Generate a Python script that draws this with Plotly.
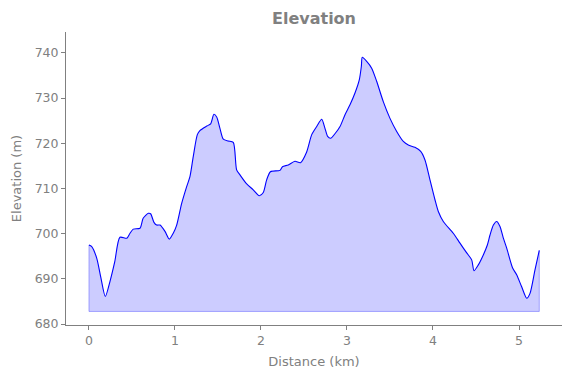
import plotly.graph_objects as go

distance_km = [0.0, 0.03, 0.09, 0.136, 0.19, 0.244, 0.30, 0.36, 0.44, 0.477, 0.515, 0.593,
               0.63, 0.69, 0.717, 0.756, 0.787, 0.826, 0.884, 0.934, 0.98, 1.02, 1.078,
               1.136, 1.174, 1.213, 1.26, 1.29, 1.37, 1.415, 1.453, 1.485, 1.523, 1.562,
               1.62, 1.678, 1.717, 1.756, 1.834, 1.91, 1.98, 2.027, 2.066, 2.11, 2.22,
               2.25, 2.317, 2.395, 2.46, 2.53, 2.59, 2.648, 2.706, 2.744, 2.775, 2.81,
               2.86, 2.919, 2.977, 3.035, 3.093, 3.143, 3.167, 3.178, 3.229, 3.287,
               3.345, 3.422, 3.5, 3.578, 3.655, 3.713, 3.79, 3.857, 3.907, 3.965, 4.023,
               4.062, 4.12, 4.236, 4.314, 4.39, 4.45, 4.477, 4.527, 4.585, 4.632, 4.663,
               4.702, 4.74, 4.779, 4.818, 4.857, 4.926, 4.973, 5.03, 5.09, 5.128, 5.186,
               5.236]
elevation_m = [697.5, 697.2, 694.6, 690.5, 686.1, 689.4, 693.8, 699.2, 699.0, 700.1, 701.0,
               701.2, 703.4, 704.5, 704.4, 702.5, 701.9, 701.9, 700.5, 698.8, 700.1, 701.9,
               706.7, 710.4, 712.6, 717.1, 721.9, 722.8, 723.8, 724.3, 726.4, 725.8, 723.3,
               720.9, 720.5, 720.2, 714.1, 713.0, 711.0, 709.7, 708.4, 709.1, 711.9, 713.7,
               714.0, 714.8, 715.2, 716.0, 715.7, 718.0, 721.9, 723.7, 725.3, 723.3, 721.5,
               721.1, 722.1, 723.7, 726.3, 728.5, 731.1, 734.0, 737.0, 739.0, 738.1, 736.6,
               733.7, 729.2, 725.5, 722.6, 720.4, 719.6, 719.1, 718.2, 716.3, 711.9, 707.5,
               704.9, 702.7, 700.1, 697.9, 695.8, 694.2, 691.8, 693.1, 695.3, 697.5, 699.7,
               701.9, 702.7, 701.6, 699.0, 696.8, 692.4, 690.9, 688.3, 685.7, 686.8, 692.0,
               696.3]
baseline_m = 682.8

title_text = "Elevation"
x_label = "Distance (km)"
y_label = "Elevation (m)"
x_ticks = [0, 1, 2, 3, 4, 5]
y_ticks = [680, 690, 700, 710, 720, 730, 740]

gray = "#808080"
edge = "rgba(0,0,255,0.3)"

fig = go.Figure()
# baseline (bottom edge of filled area)
fig.add_trace(go.Scatter(x=[distance_km[0], distance_km[-1]], y=[baseline_m, baseline_m],
                         mode="lines", line=dict(color=edge, width=1), showlegend=False,
                         hoverinfo="skip"))
# filled profile
fig.add_trace(go.Scatter(x=distance_km, y=elevation_m, mode="lines", fill="tonexty",
                         fillcolor="rgba(0,0,255,0.2)",
                         line=dict(color="#0000ff", width=1.1, shape="spline", smoothing=0.7),
                         showlegend=False))
# vertical side edges
fig.add_trace(go.Scatter(x=[distance_km[0], distance_km[0], None, distance_km[-1], distance_km[-1]],
                         y=[baseline_m, elevation_m[0], None, baseline_m, elevation_m[-1]],
                         mode="lines", line=dict(color=edge, width=1), showlegend=False,
                         hoverinfo="skip"))

axis_common = dict(showgrid=False, zeroline=False, showline=True, linecolor=gray, linewidth=1,
                   ticks="outside", ticklen=4, tickcolor=gray, tickwidth=1,
                   tickfont=dict(family="DejaVu Sans", size=12.5, color=gray),
                   mirror=False)

W, H = 563, 370  # page body adds an 8px offset
fig.update_layout(
    width=W, height=H,
    margin=dict(l=58, r=9, t=24, b=53, autoexpand=False),
    paper_bgcolor="white", plot_bgcolor="white",
    title=dict(text="<b>" + title_text + "</b>", x=306 / W, xanchor="center",
               y=1 - 10 / H, yanchor="middle",
               font=dict(family="DejaVu Sans", size=16, color=gray)),
    xaxis=dict(axis_common, range=[-0.267, 5.5], tickvals=x_ticks,
               title=dict(text=x_label, standoff=9,
                          font=dict(family="DejaVu Sans", size=13, color=gray))),
    yaxis=dict(axis_common, range=[679.8, 744.6], tickvals=y_ticks,
               title=dict(text=y_label, standoff=10,
                          font=dict(family="DejaVu Sans", size=13, color=gray))),
)

fig.write_html("out.html")
